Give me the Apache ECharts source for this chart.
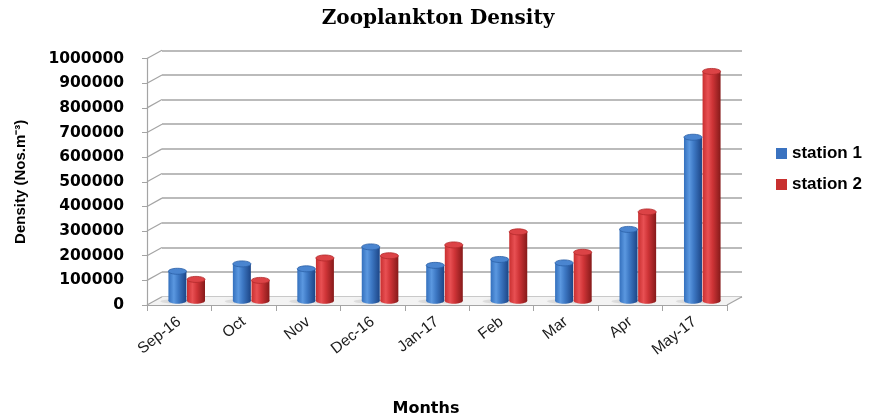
<!DOCTYPE html>
<html>
<head>
<meta charset="utf-8">
<script src="https://cdn.jsdelivr.net/npm/echarts@6/dist/echarts.min.js"></script>
<style>
  html, body { margin: 0; padding: 0; background: #ffffff; }
  #chart { width: 870px; height: 419px; }
</style>
</head>
<body>
<div id="chart"></div>
<script>
// Monthly zooplankton density at two stations (Nos. per cubic metre)
const months = ['Sep-16', 'Oct', 'Nov', 'Dec-16', 'Jan-17', 'Feb', 'Mar', 'Apr', 'May-17'];
const station1 = [120000, 150000, 130000, 219000, 144000, 168000, 154000, 290000, 664000];
const station2 = [87000, 83000, 174000, 183000, 227000, 280000, 197000, 361000, 931000];
const densityTicks = [0, 100000, 200000, 300000, 400000, 500000, 600000, 700000, 800000, 900000, 1000000];

const yMin = densityTicks[0];
const yMax = densityTicks[densityTicks.length - 1];
const yStep = densityTicks[1] - densityTicks[0];

// Depth of the pseudo-3D box (floor / back wall offset)
const DEPTH_X = 15, DEPTH_Y = -8.3;
const BAR_W = 18;
const GRID_COLOR = '#a4a4a4';

const chart = echarts.init(document.getElementById('chart'), null, { renderer: 'canvas' });

// Front plane carries the labels, back plane the gridlines, middle plane the columns
const grids = [
  { left: 147, right: 143, top: 58.6, bottom: 114 },
  { left: 147 + DEPTH_X, right: 143 - DEPTH_X, top: 58.6 + DEPTH_Y, bottom: 114 - DEPTH_Y },
  { left: 147 + DEPTH_X / 2, right: 143 - DEPTH_X / 2, top: 58.6 + DEPTH_Y / 2, bottom: 114 - DEPTH_Y / 2 }
];

function cylinder(colors, offset) {
  return function (params, api) {
    const i = api.value(0);
    const v = api.value(1);
    const base = api.coord([i, 0]);
    const top = api.coord([i, v]);
    const cx = base[0] + offset;
    const x = cx - BAR_W / 2;
    const ry = 3;
    const body = new echarts.graphic.LinearGradient(0, 0, 1, 0, [
      { offset: 0, color: colors[0] },
      { offset: 0.3, color: colors[1] },
      { offset: 0.55, color: colors[2] },
      { offset: 1, color: colors[3] }
    ]);
    return {
      type: 'group',
      children: [
        { // soft shadow cast on the floor
          type: 'ellipse',
          shape: { cx: cx - 4, cy: base[1] + 0.5, rx: BAR_W / 2 + 4, ry: 2.2 },
          style: { fill: 'rgba(150,150,150,0.22)', shadowBlur: 5, shadowColor: 'rgba(0,0,0,0.2)' },
          z2: 0
        },
        {
          type: 'ellipse',
          shape: { cx: cx, cy: base[1], rx: BAR_W / 2, ry: ry },
          style: { fill: body },
          z2: 1
        },
        {
          type: 'rect',
          shape: { x: x, y: top[1], width: BAR_W, height: base[1] - top[1] },
          style: { fill: body },
          z2: 2
        },
        {
          type: 'ellipse',
          shape: { cx: cx, cy: top[1], rx: BAR_W / 2, ry: ry },
          style: { fill: colors[4], stroke: colors[5], lineWidth: 0.8 },
          z2: 3
        }
      ]
    };
  };
}

// Floor slab, right floor edge and the diagonal tick connectors
function frame(params, api) {
  const v = api.value(0);
  const first = api.coord([0, v]);
  const band = api.size([1, 0])[0];
  const left = first[0] - band / 2;
  const right = left + band * months.length;
  const y = first[1];
  const children = [{
    type: 'line',
    shape: { x1: left, y1: y, x2: left + DEPTH_X, y2: y + DEPTH_Y },
    style: { stroke: GRID_COLOR, lineWidth: 1.2 }
  }];
  if (v === yMin) {
    children.unshift({
      type: 'polygon',
      shape: { points: [[left, y], [right, y], [right + DEPTH_X, y + DEPTH_Y], [left + DEPTH_X, y + DEPTH_Y]] },
      style: { fill: '#f3f3f3' }
    });
    children.push({
      type: 'line',
      shape: { x1: right, y1: y, x2: right + DEPTH_X, y2: y + DEPTH_Y },
      style: { stroke: GRID_COLOR, lineWidth: 1.2 }
    });
  }
  return { type: 'group', children: children };
}

const valueAxisBase = { type: 'value', min: yMin, max: yMax, interval: yStep };

const option = {
  backgroundColor: '#ffffff',
  animation: false,
  title: [
    {
      text: 'Zooplankton Density',
      left: 433,
      textAlign: 'center',
      top: 4,
      textStyle: { fontFamily: 'DejaVu Serif', fontWeight: 'bold', fontSize: 20, color: '#000' }
    },
    {
      text: 'Months',
      left: 421,
      textAlign: 'center',
      top: 396,
      textStyle: { fontFamily: 'DejaVu Sans', fontWeight: 'bold', fontSize: 16, color: '#000' }
    }
  ],
  legend: {
    orient: 'vertical',
    left: 771,
    top: 140,
    itemWidth: 11,
    itemHeight: 11,
    itemGap: 14,
    icon: 'rect',
    data: ['station 1', 'station 2'],
    textStyle: { fontFamily: 'Liberation Sans', fontWeight: 'bold', fontSize: 17, color: '#000' }
  },
  grid: grids,
  xAxis: [
    {
      type: 'category', gridIndex: 0, data: months,
      axisLine: { show: true, lineStyle: { color: GRID_COLOR, width: 1.2 } },
      axisTick: { show: true, length: 6, lineStyle: { color: GRID_COLOR } },
      axisLabel: { rotate: 38, margin: 15, fontFamily: 'Liberation Sans', fontSize: 15.5, color: '#1a1a1a' }
    },
    { type: 'category', gridIndex: 1, data: months, show: false },
    { type: 'category', gridIndex: 2, data: months, show: false }
  ],
  yAxis: [
    Object.assign({}, valueAxisBase, {
      gridIndex: 0,
      name: 'Density (Nos.m⁻³)', nameLocation: 'middle', nameRotate: 90, nameGap: 119,
      nameTextStyle: { fontFamily: 'Liberation Sans', fontWeight: 'bold', fontSize: 15, color: '#000' },
      axisLine: { show: true, lineStyle: { color: GRID_COLOR, width: 1.2 } },
      axisTick: { show: true, length: 5, lineStyle: { color: GRID_COLOR } },
      splitLine: { show: false },
      axisLabel: {
        margin: 23, fontFamily: 'DejaVu Sans', fontWeight: 'bold', fontSize: 15.5, color: '#000',
        formatter: v => String(v)
      }
    }),
    Object.assign({}, valueAxisBase, {
      gridIndex: 1,
      axisLine: { show: false }, axisTick: { show: false }, axisLabel: { show: false },
      splitLine: { show: true, lineStyle: { color: GRID_COLOR, width: 1.5 } }
    }),
    Object.assign({}, valueAxisBase, { gridIndex: 2, show: false, splitLine: { show: false } })
  ],
  series: [
    {
      type: 'custom', name: 'frame', xAxisIndex: 0, yAxisIndex: 0, z: 1,
      data: densityTicks.map(t => [t]),
      encode: { y: 0 },
      renderItem: frame, silent: true
    },
    {
      type: 'custom', name: 'station 1', xAxisIndex: 2, yAxisIndex: 2, z: 5,
      itemStyle: { color: '#3a72c0' },
      data: months.map((m, i) => [i, station1[i]]),
      encode: { x: 0, y: 1 },
      renderItem: cylinder(['#3470bd', '#5b98e0', '#3d78c4', '#1c4586', '#4a85d0', '#2b5fa6'], -9.3)
    },
    {
      type: 'custom', name: 'station 2', xAxisIndex: 2, yAxisIndex: 2, z: 5,
      itemStyle: { color: '#c8302f' },
      data: months.map((m, i) => [i, station2[i]]),
      encode: { x: 0, y: 1 },
      renderItem: cylinder(['#c92f30', '#e85053', '#cf3437', '#861a1a', '#dc4346', '#b12a2b'], 9.3)
    }
  ]
};

chart.setOption(option);
</script>
</body>
</html>
